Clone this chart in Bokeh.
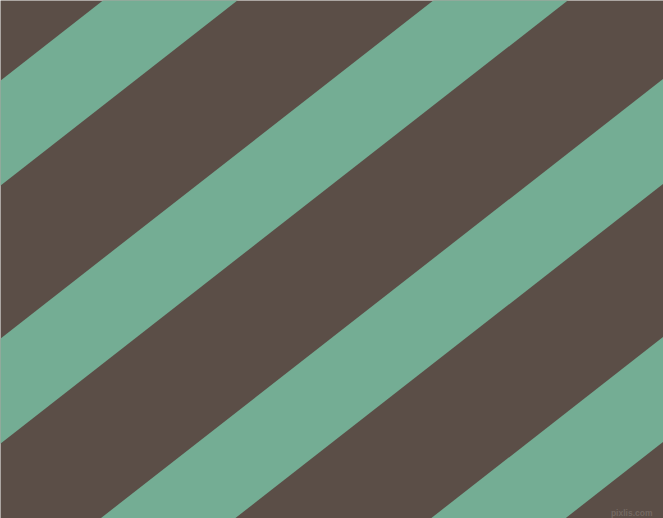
from bokeh.plotting import figure
from bokeh.models import Range1d, ColumnDataSource
from bokeh.core.properties import value
from bokeh.embed import file_html
from bokeh.resources import INLINE

W, H = 663, 518

# stripe pattern (image pixel units, y measured downward from the top)
band_top_at_left = [80, 338, 596, 854]   # where each green band's upper edge meets x=0
band_height = 105                         # vertical thickness of a green band
band_slope = 0.781                        # rise per unit run (about 38 degrees)
brown = "#5B4E47"
green = "#74AD94"
watermark = "pixlis.com"

pad = 20
xs, ys = [], []
for c in band_top_at_left:
    x0, x1 = -pad, W + pad
    xs.append([x0, x1, x1, x0])
    ys.append([c - band_slope * x0, c - band_slope * x1,
               c + band_height - band_slope * x1, c + band_height - band_slope * x0])

src = ColumnDataSource(dict(xs=xs, ys=ys))

p = figure(width=W, height=H, output_backend="svg", toolbar_location=None,
           x_range=Range1d(0, W), y_range=Range1d(H, 0),
           min_border=0, background_fill_color=brown, border_fill_color=brown)
p.axis.visible = False
p.grid.visible = False
p.outline_line_color = None

p.patches("xs", "ys", source=src, fill_color=green, line_color=None)

p.text(x=[652], y=[512], text=[watermark], text_align="right", text_baseline="alphabetic",
       text_font=value("Liberation Sans"), text_font_size="8.5px", text_font_style="bold",
       text_color="#746861")

open("out.html", "w").write(file_html(p, INLINE))
